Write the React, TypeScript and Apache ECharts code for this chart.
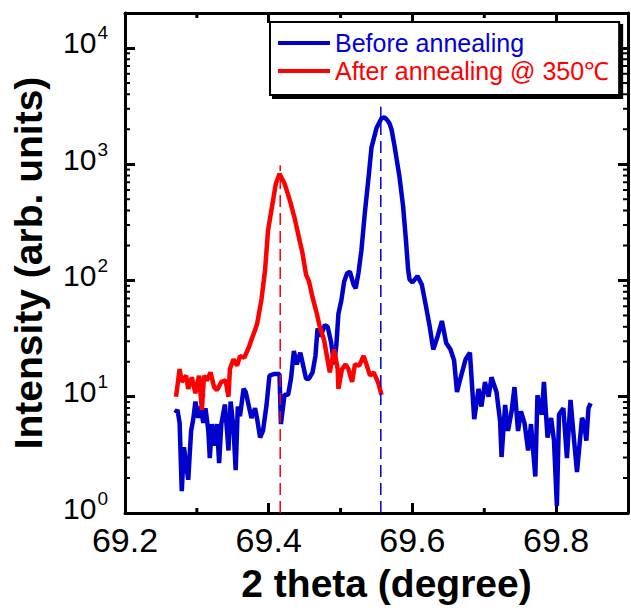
import React, { useEffect, useRef } from 'react';
import * as echarts from 'echarts';

// 2 theta (degree)
const beforeX = [
  69.270, 69.273, 69.276, 69.279, 69.282, 69.285, 69.288, 69.292, 69.295, 69.298,
  69.302, 69.305, 69.309, 69.312, 69.316, 69.318, 69.321, 69.325, 69.328, 69.331,
  69.334, 69.339, 69.342, 69.344, 69.347, 69.351, 69.354, 69.357, 69.360, 69.365,
  69.368, 69.373, 69.376, 69.381, 69.384, 69.388, 69.392, 69.397, 69.401, 69.408,
  69.415, 69.417, 69.422, 69.427, 69.431, 69.435, 69.439, 69.444, 69.447, 69.452,
  69.456, 69.461, 69.465, 69.468, 69.472, 69.478, 69.482, 69.487, 69.491, 69.494,
  69.497, 69.501, 69.505, 69.509, 69.513, 69.518, 69.521, 69.525, 69.529, 69.534,
  69.539, 69.543, 69.550, 69.557, 69.561, 69.564, 69.568, 69.571, 69.575, 69.582,
  69.587, 69.591, 69.594, 69.596, 69.600, 69.607, 69.613, 69.619, 69.624, 69.629,
  69.635, 69.641, 69.647, 69.653, 69.658, 69.662, 69.668, 69.674, 69.680, 69.686,
  69.692, 69.696, 69.701, 69.706, 69.710, 69.717, 69.722, 69.724, 69.729, 69.733,
  69.738, 69.742, 69.747, 69.751, 69.756, 69.761, 69.765, 69.771, 69.774, 69.780,
  69.783, 69.788, 69.793, 69.797, 69.801, 69.804, 69.810, 69.815, 69.820, 69.825,
  69.829, 69.836, 69.839, 69.842, 69.845, 69.848,
];
// Intensity (arb. units), before annealing
const beforeY = [
  7.24, 7.73, 5.97, 1.54, 3.68, 2.68, 1.93, 5.08, 6.41, 9.08,
  6.57, 8.24, 5.97, 7.97, 5.08, 2.96, 5.82, 3.80, 5.82, 2.68,
  5.82, 8.57, 5.08, 3.45, 9.08, 5.42, 2.34, 8.24, 6.79, 11.7,
  11.0, 7.97, 6.57, 7.97, 6.37, 4.46, 5.08, 8.51, 15.2, 15.7,
  15.7, 5.82, 10.4, 10.4, 14.3, 24.7, 19.0, 23.9, 19.7, 14.3,
  14.3, 16.2, 22.4, 38.7, 33.0, 41.3, 40.1, 29.0, 19.0, 27.2,
  51.8, 67.0, 98.1, 115, 119, 92.5, 85.7, 117, 182, 395,
  778, 1390, 2047, 2483, 2530, 2436, 2254, 1981, 1445, 778,
  435, 221, 124, 102, 96.2, 109, 92.5, 59.3, 40.3, 25.5,
  33.0, 44.8, 29.0, 25.5, 20.5, 11.0, 15.3, 21.0, 23.9, 6.41,
  11.7, 8.24, 13.4, 10.0, 14.7, 11.0, 6.17, 3.03, 8.51, 5.08,
  7.48, 12.1, 5.08, 7.48, 5.93, 3.45, 5.82, 2.06, 10.3, 7.02,
  13.4, 4.46, 6.57, 4.19, 1.15, 7.02, 7.97, 2.96, 9.38, 4.19,
  2.25, 6.57, 5.93, 4.19, 7.97, 8.79,
];
const afterX = [
  69.271, 69.276, 69.279, 69.285, 69.288, 69.293, 69.298, 69.303, 69.307, 69.310,
  69.314, 69.319, 69.324, 69.328, 69.334, 69.340, 69.344, 69.346, 69.351, 69.356,
  69.360, 69.366, 69.372, 69.376, 69.381, 69.384, 69.390, 69.395, 69.399, 69.404,
  69.410, 69.415, 69.422, 69.429, 69.436, 69.443, 69.447, 69.452, 69.456, 69.461,
  69.467, 69.471, 69.477, 69.481, 69.485, 69.491, 69.496, 69.497, 69.502, 69.507,
  69.511, 69.516, 69.520, 69.526, 69.532, 69.536, 69.541, 69.546, 69.552, 69.557,
];
const afterY = [
  10.0, 17.3, 13.4, 15.2, 11.7, 14.7, 10.7, 15.2, 7.73, 15.2,
  13.8, 16.2, 12.1, 11.4, 13.4, 13.8, 10.0, 17.3, 21.0, 18.5,
  22.4, 21.7, 26.3, 30.9, 37.5, 42.7, 69.2, 124, 268, 411,
  683, 829, 683, 498, 345, 221, 172, 112, 98.7, 71.6,
  51.8, 40.1, 30.9, 22.4, 16.2, 25.5, 17.3, 11.7, 17.3, 19.0,
  17.3, 13.4, 19.0, 18.5, 22.4, 19.0, 15.2, 16.2, 13.4, 10.4,
];
// peak markers (position, top of dashed line)
const peakBefore = [69.556, 3130];
const peakAfter = [69.416, 980];

const seriesNames = ['Before annealing', 'After annealing @ 350\u2103'];
const xMin = 69.2;
const xMax = 69.9;
const xStep = 0.2;
const xTickLabels = [69.2, 69.4, 69.6, 69.8];
const xMinorTicks = [69.3, 69.5, 69.7];
const yMin = 1;
const yMax = 20000;
const yMinorMantissas = [2, 3, 4, 5, 6, 7, 8, 9];
const yDecades = [1, 10, 100, 1000];

const BLUE = '#0000cc';
const RED = '#ff0000';
const FONT = "'Liberation Sans', Arial, Helvetica, sans-serif";

export default function App() {
  const ref = useRef<HTMLDivElement>(null);

  useEffect(() => {
    if (!ref.current) return;
    const chart = echarts.init(ref.current, undefined, { renderer: 'svg' });

    const yMinorValues: number[] = [];
    yDecades.forEach((d) => yMinorMantissas.forEach((m) => yMinorValues.push(m * d)));

    const axisLine = { show: true, lineStyle: { color: '#000', width: 3 } };
    const majorTick = { show: true, inside: true, length: 10, lineStyle: { color: '#000', width: 3 } };

    const option: any = {
      animation: false,
      backgroundColor: '#fff',
      grid: { left: 125, right: -4, top: 13, bottom: 84, containLabel: false },
      xAxis: [
        {
          type: 'value', min: xMin, max: xMax, interval: xStep, position: 'bottom',
          axisLine, axisTick: majorTick, splitLine: { show: false },
          axisLabel: {
            fontSize: 34, fontFamily: FONT, color: '#000', margin: 10,
            formatter: (v: number) => {
              const t = xTickLabels.find((k) => Math.abs(k - v) < 1e-6);
              return t === undefined ? '' : t.toFixed(1);
            },
          },
          name: '2 theta (degree)', nameLocation: 'middle', nameGap: 51,
          nameTextStyle: { fontSize: 39, fontWeight: 'bold', fontFamily: FONT, color: '#000', padding: [0, 0, 0, 20] },
        },
        {
          type: 'value', min: xMin, max: xMax, interval: xStep, position: 'top',
          axisLine, axisTick: majorTick, splitLine: { show: false }, axisLabel: { show: false },
        },
      ],
      yAxis: [
        {
          type: 'log', logBase: 10, min: yMin, max: yMax, position: 'left',
          axisLine, axisTick: majorTick, splitLine: { show: false },
          axisLabel: {
            margin: 17, color: '#000', fontSize: 30, fontFamily: FONT,
            formatter: (v: number) => {
              const l = Math.log10(v);
              const e = Math.round(l);
              if (Math.abs(l - e) > 1e-6) return '';
              return '{base|10}{sup|' + e + '}';
            },
            rich: {
              base: { fontSize: 30, fontFamily: FONT, color: '#000', lineHeight: 30, padding: [0, 0, 10, 0] },
              sup: { fontSize: 19, fontFamily: FONT, color: '#000', lineHeight: 19, padding: [0, 0, 30, 1] },
            },
          },
          name: 'Intensity (arb. units)', nameLocation: 'middle', nameGap: 77,
          nameTextStyle: { fontSize: 39, fontWeight: 'bold', fontFamily: FONT, color: '#000' },
        },
        {
          type: 'log', logBase: 10, min: yMin, max: yMax, position: 'right',
          axisLine, axisTick: majorTick, splitLine: { show: false }, axisLabel: { show: false },
        },
      ],
      legend: {
        orient: 'vertical', left: 270, top: 22,
        padding: [8, 10, 11, 8], itemGap: 2, itemWidth: 52, itemHeight: 4, icon: 'rect',
        backgroundColor: '#fff', borderColor: '#000', borderWidth: 2,
        shadowColor: '#000', shadowBlur: 0, shadowOffsetX: 3, shadowOffsetY: 3,
        textStyle: { fontSize: 25, fontFamily: FONT, lineHeight: 26 },
        data: [
          { name: seriesNames[0], textStyle: { color: '#0000dd' } },
          { name: seriesNames[1], textStyle: { color: RED } },
        ],
      },
      series: [
        {
          type: 'custom', silent: true, z: 5,
          data: yMinorValues.map((v) => [xMin, v]),
          renderItem: (params: any, api: any) => {
            const cs = params.coordSys;
            const y = api.coord([xMin, api.value(1)])[1];
            const st = { stroke: '#000', lineWidth: 2 };
            return {
              type: 'group',
              children: [
                { type: 'line', shape: { x1: cs.x, y1: y, x2: cs.x + 5, y2: y }, style: st },
                { type: 'line', shape: { x1: cs.x + cs.width - 5, y1: y, x2: cs.x + cs.width, y2: y }, style: st },
              ],
            };
          },
        },
        {
          type: 'custom', silent: true, z: 5,
          data: xMinorTicks.map((v) => [v, yMin]),
          renderItem: (params: any, api: any) => {
            const cs = params.coordSys;
            const x = api.coord([api.value(0), yMin])[0];
            const st = { stroke: '#000', lineWidth: 3 };
            return {
              type: 'group',
              children: [
                { type: 'line', shape: { x1: x, y1: cs.y + cs.height, x2: x, y2: cs.y + cs.height - 5 }, style: st },
                { type: 'line', shape: { x1: x, y1: cs.y, x2: x, y2: cs.y + 5 }, style: st },
              ],
            };
          },
        },
        {
          name: seriesNames[0], type: 'line', z: 3,
          data: beforeX.map((x, i) => [x, beforeY[i]]),
          symbol: 'none', showSymbol: false,
          itemStyle: { color: BLUE }, lineStyle: { color: BLUE, width: 4.5 },
        },
        {
          name: seriesNames[1], type: 'line', z: 4,
          data: afterX.map((x, i) => [x, afterY[i]]),
          symbol: 'none', showSymbol: false,
          itemStyle: { color: RED }, lineStyle: { color: RED, width: 4.5 },
        },
        {
          type: 'line', z: 6, silent: true, symbol: 'none',
          data: [[peakBefore[0], yMin], [peakBefore[0], peakBefore[1]]],
          lineStyle: { color: BLUE, width: 1.5, type: [12, 6] },
        },
        {
          type: 'line', z: 6, silent: true, symbol: 'none',
          data: [[peakAfter[0], yMin], [peakAfter[0], peakAfter[1]]],
          lineStyle: { color: RED, width: 1.5, type: [12, 6] },
        },
      ],
    };

    chart.setOption(option);
    return () => chart.dispose();
  }, []);

  return (
    <div
      ref={ref}
      style={{ position: 'absolute', left: 0, top: 0, width: 631, height: 608, background: '#fff' }}
    />
  );
}
